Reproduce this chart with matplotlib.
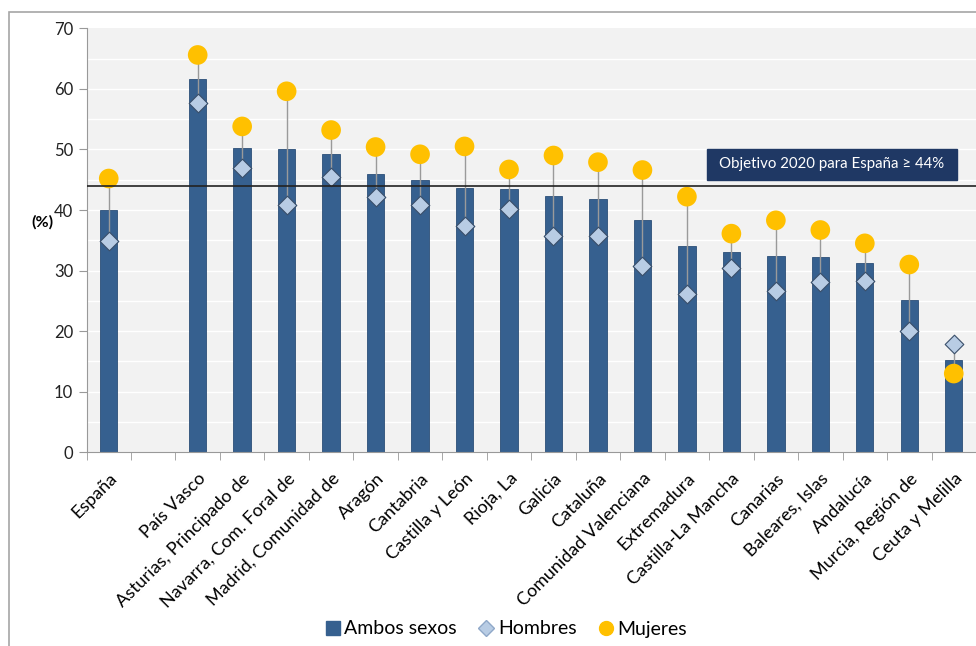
import matplotlib
matplotlib.use("Agg")
import matplotlib.pyplot as plt
import matplotlib.patches as mpatches
import matplotlib.transforms as mtransforms
from matplotlib.lines import Line2D
import numpy as np

plt.rcParams['font.family'] = ['Lato', 'DejaVu Sans']

categories = ["España", "", "País Vasco", "Asturias, Principado de", "Navarra, Com. Foral de",
              "Madrid, Comunidad de", "Aragón", "Cantabria", "Castilla y León", "Rioja, La",
              "Galicia", "Cataluña", "Comunidad Valenciana", "Extremadura", "Castilla-La Mancha",
              "Canarias", "Baleares, Islas", "Andalucía", "Murcia, Región de", "Ceuta y Melilla"]
ambos = [40.0, np.nan, 61.6, 50.3, 50.1, 49.3, 46.0, 44.9, 43.7, 43.4, 42.3, 41.8, 38.4,
         34.0, 33.1, 32.4, 32.2, 31.3, 25.1, 15.3]
hombres = [34.9, np.nan, 57.6, 47.0, 40.9, 45.4, 42.1, 40.9, 37.3, 40.1, 35.7, 35.7, 30.8,
           26.2, 30.5, 26.7, 28.1, 28.3, 20.0, 17.9]
mujeres = [45.2, np.nan, 65.6, 53.8, 59.6, 53.2, 50.4, 49.2, 50.5, 46.7, 49.0, 47.9, 46.6,
           42.2, 36.1, 38.3, 36.7, 34.5, 31.0, 13.0]
objetivo = 44
objetivo_label = "Objetivo 2020 para España ≥ 44%"
yticks = [0, 10, 20, 30, 40, 50, 60, 70]

bar_color = "#36608F"
hom_color = "#B8CCE4"
muj_color = "#FFC000"

fig = plt.figure(figsize=(9.76, 6.46), dpi=100)
fig.patch.set_facecolor("white")
ax = fig.add_axes([86.5/976, 1 - 452.3/646, 1 - 86.5/976, (452.3 - 28.3)/646])
ax.set_facecolor("#F2F2F2")

x = np.arange(len(categories))
ax.set_xlim(-0.5, len(categories) - 0.5)
ax.set_ylim(0, 70)

for yv in np.arange(5, 70, 5):
    ax.axhline(yv, color="white", lw=1.0, zorder=1)

ax.bar(x, ambos, width=0.39, color=bar_color, edgecolor="#2C4F78", linewidth=0.6, zorder=2)

for xi, h, m in zip(x, hombres, mujeres):
    if np.isnan(h):
        continue
    ax.plot([xi, xi], [h, m], color="#9A9A9A", lw=1.0, zorder=3)

ax.scatter(x, hombres, marker="D", s=90, color=hom_color, edgecolor="#3A4F6A", linewidth=0.8, zorder=5)
ax.scatter(x, mujeres, marker="o", s=200, color=muj_color, edgecolor="none", zorder=4)

ax.axhline(objetivo, color="#222222", lw=1.2, zorder=6)

# label box for target line (x in axes fraction, y in data)
trans = mtransforms.blended_transform_factory(ax.transAxes, ax.transData)
bx0 = (706.7 - 86.5) / 889.5
bx1 = (956.7 - 86.5) / 889.5
by0, by1 = 45.0, 50.1
ax.add_patch(mpatches.Rectangle((bx0, by0), bx1 - bx0, by1 - by0, transform=trans,
                                facecolor="#1F3864", edgecolor="#1F3864", zorder=7))
ax.text((bx0 + bx1) / 2, (by0 + by1) / 2, objetivo_label, transform=trans,
        fontsize=10.8, color="white", ha="center", va="center", zorder=8)

ax.set_yticks(yticks)
ax.set_yticklabels([str(v) for v in yticks], fontsize=12, color="#222222")
ax.set_xticks(x)
ax.set_xticklabels(categories, rotation=45, ha="right", rotation_mode="anchor", fontsize=13)
ax.tick_params(axis="x", length=0, pad=13)
ax.set_xticks(np.arange(-0.5, len(categories), 1), minor=True)
ax.tick_params(axis="x", which="minor", length=6, color="#999999")
ax.tick_params(axis="y", length=6, color="#999999", direction="out")

for s in ["top", "right"]:
    ax.spines[s].set_visible(False)
ax.spines["left"].set_color("#999999")
ax.spines["bottom"].set_color("#999999")

fig.text(42/976, 1 - 222/646, "(%)", fontsize=11.5, fontweight="bold", ha="center", va="center")

# outer frame
fig.patches.append(mpatches.Rectangle((9/976, -0.05), 1.2, 1 - 12/646 + 0.05, transform=fig.transFigure,
                                      fill=False, edgecolor="#A6A6A6", lw=1.2))

handles = [
    Line2D([], [], marker="s", color=bar_color, linestyle="none", markersize=10, label="Ambos sexos"),
    Line2D([], [], marker="D", color=hom_color, markeredgecolor="#8FA8C8", linestyle="none", markersize=8, label="Hombres"),
    Line2D([], [], marker="o", color=muj_color, linestyle="none", markersize=10, label="Mujeres"),
]
fig.legend(handles=handles, loc="center", bbox_to_anchor=(505/976, 1 - 629/646), ncol=3, frameon=False,
           fontsize=14, handletextpad=0.1, columnspacing=1.0, handlelength=1.0)

fig.savefig("out.png", dpi=100)
